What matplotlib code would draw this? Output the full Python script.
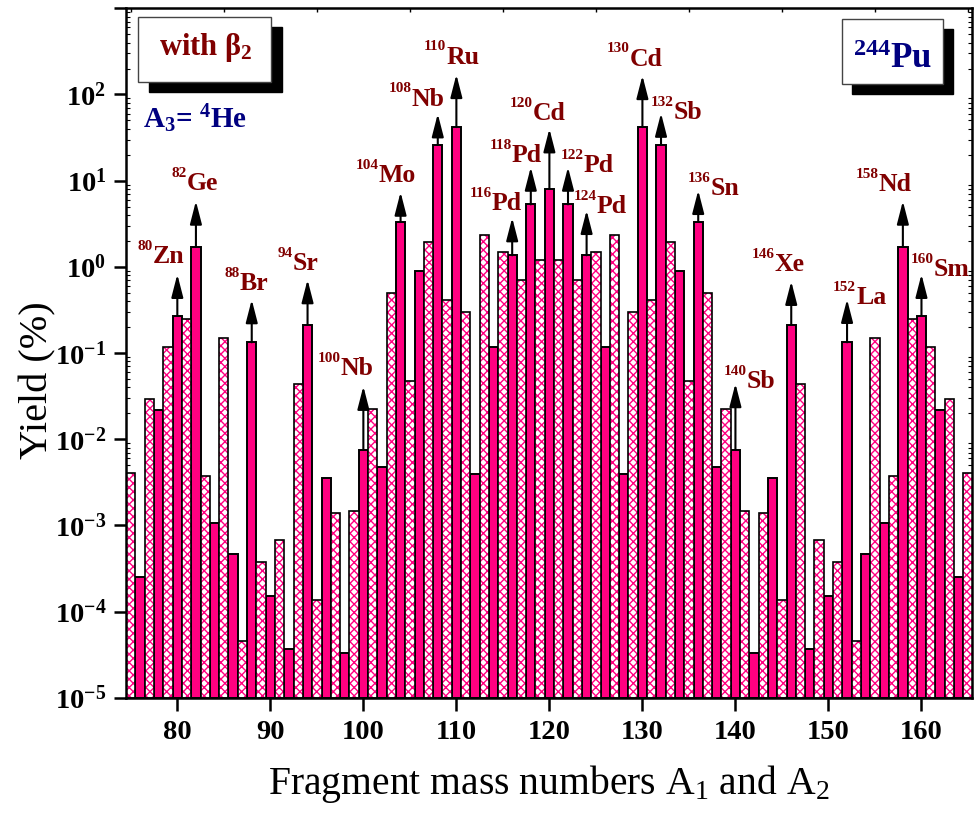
import matplotlib
matplotlib.use('Agg')
import matplotlib.pyplot as plt
import numpy as np
from matplotlib.patches import Rectangle
from matplotlib.ticker import FixedLocator, FuncFormatter, LogLocator, NullFormatter

# ---------------- data ----------------
mass_numbers = list(range(75, 166))
yields = [
    0.0041, 2.5e-4, 0.029, 0.022, 0.118, 0.27, 0.245, 1.70, 0.0037, 0.00106,      # 75-84
    0.15, 4.6e-4, 4.6e-5, 0.133, 3.8e-4, 1.5e-4, 6.8e-4, 3.7e-5, 0.044, 0.214,    # 85-94
    1.36e-4, 0.0035, 0.00138, 3.3e-5, 0.00148, 0.0075, 0.0226, 0.0047, 0.50, 3.35,  # 95-104
    0.047, 0.90, 1.93, 25.9, 0.41, 41.8, 0.30, 0.0039, 2.32, 0.118,               # 105-114
    1.49, 1.36, 0.70, 5.3, 1.19, 8.07, 1.19, 5.3, 0.70, 1.36,                     # 115-124
    1.49, 0.118, 2.32, 0.0039, 0.30, 41.8, 0.41, 25.9, 1.93, 0.90,                # 125-134
    0.047, 3.35, 0.50, 0.0047, 0.0226, 0.0075, 0.00148, 3.3e-5, 0.00138, 0.0035,  # 135-144
    1.36e-4, 0.214, 0.044, 3.7e-5, 6.8e-4, 1.5e-4, 3.8e-4, 0.133, 4.6e-5, 4.6e-4, # 145-154
    0.15, 0.00106, 0.0037, 1.70, 0.245, 0.27, 0.118, 0.022, 0.029, 2.5e-4,        # 155-164
    0.0041,                                                                        # 165
]
label_masses = [80, 82, 88, 94, 100, 104, 108, 110, 116, 118, 120,
                122, 124, 130, 132, 136, 140, 146, 152, 158, 160]
label_elements = ['Zn', 'Ge', 'Br', 'Sr', 'Nb', 'Mo', 'Nb', 'Ru', 'Pd', 'Pd', 'Cd',
                  'Pd', 'Pd', 'Cd', 'Sb', 'Sn', 'Sb', 'Xe', 'La', 'Nd', 'Sm']
xtick_values = [80, 90, 100, 110, 120, 130, 140, 150, 160]

# ---------------- layout (label anchor x, log10 label baseline, log10 arrow tip) -------
label_layout = [
    (77.39, 0.040, -0.087), (81.04, 0.887, 0.763), (86.74, -0.273, -0.381),
    (92.43, -0.041, -0.149), (97.59, -1.258, -1.386), (101.68, 0.983, 0.867),
    (105.22, 1.872, 1.776), (108.98, 2.359, 2.232), (113.82, 0.655, 0.570),
    (115.97, 1.215, 1.157), (118.23, 1.699, 1.602), (123.71, 1.099, 1.157),
    (125.10, 0.624, 0.655), (128.65, 2.336, 2.220), (133.38, 1.718, 1.783),
    (137.35, 0.829, 0.887), (141.22, -1.406, -1.355), (144.22, -0.049, -0.168),
    (153.03, -0.435, -0.377), (155.40, 0.879, 0.763), (161.31, -0.110, -0.087),
]

PINK = '#FF0080'
DARKRED = '#800000'
NAVY = '#000080'
SERIF = 'Liberation Serif'

plt.rcParams['font.family'] = [SERIF, 'DejaVu Serif']
plt.rcParams['mathtext.default'] = 'regular'
plt.rcParams['hatch.linewidth'] = 1.0

W, H = 974, 813
fig = plt.figure(figsize=(W / 100, H / 100), dpi=100)
L, R, T, B = 125.7, 971.7, 8.3, 697.7
ax = fig.add_axes([L / W, 1 - B / H, (R - L) / W, (B - T) / H])

masses = np.array(mass_numbers)
vals = np.array(yields)
even = masses % 2 == 0
odd = ~even

# solid (even) bars
ax.bar(masses[even], vals[even] - 1e-5, bottom=1e-5, width=1.0, color=PINK,
       edgecolor='black', linewidth=1.4, zorder=2)
# hatched (odd) bars: white face with pink cross-hatch, then black outline
ax.bar(masses[odd], vals[odd] - 1e-5, bottom=1e-5, width=1.0, facecolor='white',
       edgecolor=PINK, hatch='xxxx', linewidth=0, zorder=2)
ax.bar(masses[odd], vals[odd] - 1e-5, bottom=1e-5, width=1.0, facecolor='none',
       edgecolor='black', linewidth=1.2, zorder=3)

ax.set_yscale('log')
ax.set_xlim(74.45, 165.4)
ax.set_ylim(1e-5, 1e3)

# arrows and labels
val_of = dict(zip(mass_numbers, yields))
for m, el, (lx, ly, tip) in zip(label_masses, label_elements, label_layout):
    ax.annotate('', xy=(m, 10 ** tip), xytext=(m, val_of[m]),
                arrowprops=dict(arrowstyle='-|>,head_length=0.7,head_width=0.18',
                                color='black', lw=1.5, mutation_scale=20,
                                shrinkA=0, shrinkB=0), zorder=4)
    ax.annotate(el, xy=(lx, 10 ** ly), xytext=(0, 0), textcoords='offset points',
                ha='left', va='baseline', fontsize=18.5, fontweight='bold',
                color=DARKRED, zorder=5)
    ax.annotate(str(m), xy=(lx, 10 ** ly), xytext=(-0.3, 9.5), textcoords='offset points',
                ha='right', va='baseline', fontsize=11, fontweight='bold',
                color=DARKRED, zorder=5)

# ticks
ax.xaxis.set_major_locator(FixedLocator(xtick_values))
ax.xaxis.set_minor_locator(FixedLocator(list(range(75, 166, 5))))
ax.tick_params(axis='x', which='major', direction='out', length=9, width=1.8,
               labelsize=20.5, pad=7, top=False)
ax.tick_params(axis='x', which='minor', direction='in', length=3, width=1.0, top=True)
ax.yaxis.set_major_locator(LogLocator(base=10, numticks=20))
ax.yaxis.set_minor_locator(LogLocator(base=10, subs=np.arange(2, 10), numticks=20))
ax.yaxis.set_minor_formatter(NullFormatter())
ax.yaxis.set_major_formatter(FuncFormatter(
    lambda v, p: r'$10^{%d}$' % int(round(np.log10(v))) if int(round(np.log10(v))) < 3 else ''))
ax.tick_params(axis='y', which='major', direction='out', length=9, width=1.8,
               labelsize=20.5, pad=5, right=False)
ax.tick_params(axis='y', which='minor', direction='in', length=3, width=0.8, right=True)
for lab in ax.get_xticklabels() + ax.get_yticklabels():
    lab.set_fontweight('bold')

for s in ax.spines.values():
    s.set_linewidth(1.8)

ax.set_xlabel(r'Fragment mass numbers A$_1$ and A$_2$', fontsize=28.5)
ax.set_ylabel('Yield (%)', fontsize=29)
ax.xaxis.set_label_coords(0.5, -0.095)
ax.yaxis.set_label_coords(-0.082, 0.461)


def fx(x):
    return x / W


def fy(y):
    return 1 - y / H


def box(x0, y0, x1, y1, dx, dy):
    fig.add_artist(Rectangle((fx(x0 + dx), fy(y1 + dy)), (x1 - x0) / W, (y1 - y0) / H,
                             transform=fig.transFigure, facecolor='black',
                             edgecolor='black', zorder=10))
    fig.add_artist(Rectangle((fx(x0), fy(y1)), (x1 - x0) / W, (y1 - y0) / H,
                             transform=fig.transFigure, facecolor='white',
                             edgecolor='#444444', linewidth=1.0, zorder=11))


box(138.3, 16.7, 270.7, 81.7, 11, 10)
box(841.7, 19.3, 942.7, 84.0, 10.5, 10)

fig.text(fx(205.5), fy(55), r'with β$_2$', ha='center', va='baseline', fontsize=22,
         fontweight='bold', color=DARKRED, zorder=12)
fig.text(fx(892.5), fy(68.3), r'$^{244}$Pu', ha='center', va='baseline', fontsize=25,
         fontweight='bold', color=NAVY, zorder=12)
fig.text(fx(143), fy(128), r'A$_3$= $^4$He', ha='left', va='baseline', fontsize=21,
         fontweight='bold', color=NAVY, zorder=12)

fig.savefig('out.png', dpi=100)
